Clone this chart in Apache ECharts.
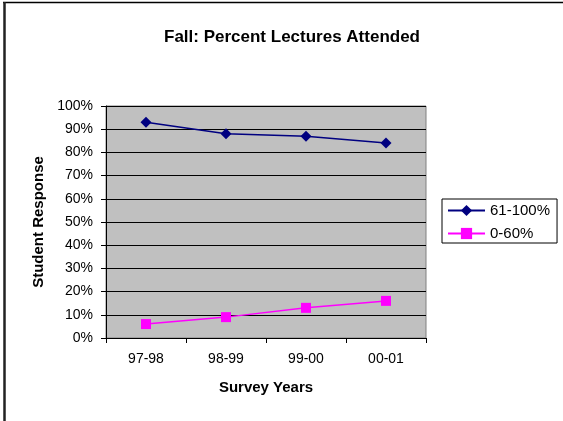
<!DOCTYPE html>
<html>
<head>
<meta charset="utf-8">
<script src="https://cdn.jsdelivr.net/npm/echarts@6/dist/echarts.min.js"></script>
<style>
html,body{margin:0;padding:0;background:#fff;}
#chart{width:563px;height:421px;}
</style>
</head>
<body>
<div id="chart"></div>
<script>
const categories = ['97-98', '98-99', '99-00', '00-01'];
const series61to100 = [93, 88, 87, 84];
const series0to60 = [6, 9, 13, 16];
const seriesNames = ['61-100%', '0-60%'];
const titleText = 'Fall: Percent Lectures Attended';
const xAxisTitle = 'Survey Years';
const yAxisTitle = 'Student Response';

const FONT = '"Liberation Sans", Arial, sans-serif';
const chart = echarts.init(document.getElementById('chart'), null, {renderer: 'canvas'});
chart.setOption({
  animation: false,
  backgroundColor: '#ffffff',
  title: {
    text: titleText,
    left: 287, top: 24, textAlign: 'center',
    textStyle: {fontFamily: FONT, fontSize: 17, fontWeight: 'bold', color: '#000'}
  },
  graphic: [
    {type: 'line', shape: {x1: 3, y1: 2.5, x2: 563, y2: 2.5}, style: {stroke: '#000', lineWidth: 1.5}},
    {type: 'line', shape: {x1: 4.5, y1: 2, x2: 4.5, y2: 421}, style: {stroke: '#222', lineWidth: 2.5}}
  ],
  grid: {
    left: 106, top: 106, width: 320, height: 232,
    show: true, backgroundColor: '#C0C0C0', borderColor: '#808080', borderWidth: 1
  },
  legend: {
    orient: 'vertical', left: 442, top: 199,
    data: seriesNames,
    itemWidth: 37, itemHeight: 14, itemGap: 8,
    padding: [4, 7, 2, 5],
    borderColor: '#000', borderWidth: 1, backgroundColor: '#fff',
    textStyle: {fontFamily: FONT, fontSize: 15, color: '#000', padding: [0, 0, 0, 0]}
  },
  xAxis: {
    type: 'category', data: categories, boundaryGap: true,
    name: xAxisTitle, nameLocation: 'middle', nameGap: 42,
    nameTextStyle: {fontFamily: FONT, fontSize: 15, fontWeight: 'bold', color: '#000'},
    axisLine: {show: true, lineStyle: {color: '#000', width: 1}},
    axisTick: {show: true, length: 5, inside: false, lineStyle: {color: '#000'}, alignWithLabel: false},
    axisLabel: {fontFamily: FONT, fontSize: 14, color: '#000', margin: 14},
    splitLine: {show: false}
  },
  yAxis: {
    type: 'value', min: 0, max: 100, interval: 10,
    name: yAxisTitle, nameLocation: 'middle', nameGap: 57, nameRotate: 90,
    nameTextStyle: {fontFamily: FONT, fontSize: 15, fontWeight: 'bold', color: '#000'},
    axisLine: {show: true, lineStyle: {color: '#000', width: 1}},
    axisTick: {show: true, length: 5, inside: false, lineStyle: {color: '#000'}},
    axisLabel: {fontFamily: FONT, fontSize: 14, color: '#000', margin: 13, formatter: '{value}%'},
    splitLine: {show: true, lineStyle: {color: '#000', width: 1}}
  },
  series: [
    {
      name: seriesNames[0], type: 'line', data: series61to100,
      symbol: 'diamond', symbolSize: 11,
      lineStyle: {color: '#000080', width: 1.5},
      itemStyle: {color: '#000080'}
    },
    {
      name: seriesNames[1], type: 'line', data: series0to60,
      symbol: 'rect', symbolSize: 10,
      lineStyle: {color: '#FF00FF', width: 1.5},
      itemStyle: {color: '#FF00FF'}
    }
  ]
});
</script>
</body>
</html>
